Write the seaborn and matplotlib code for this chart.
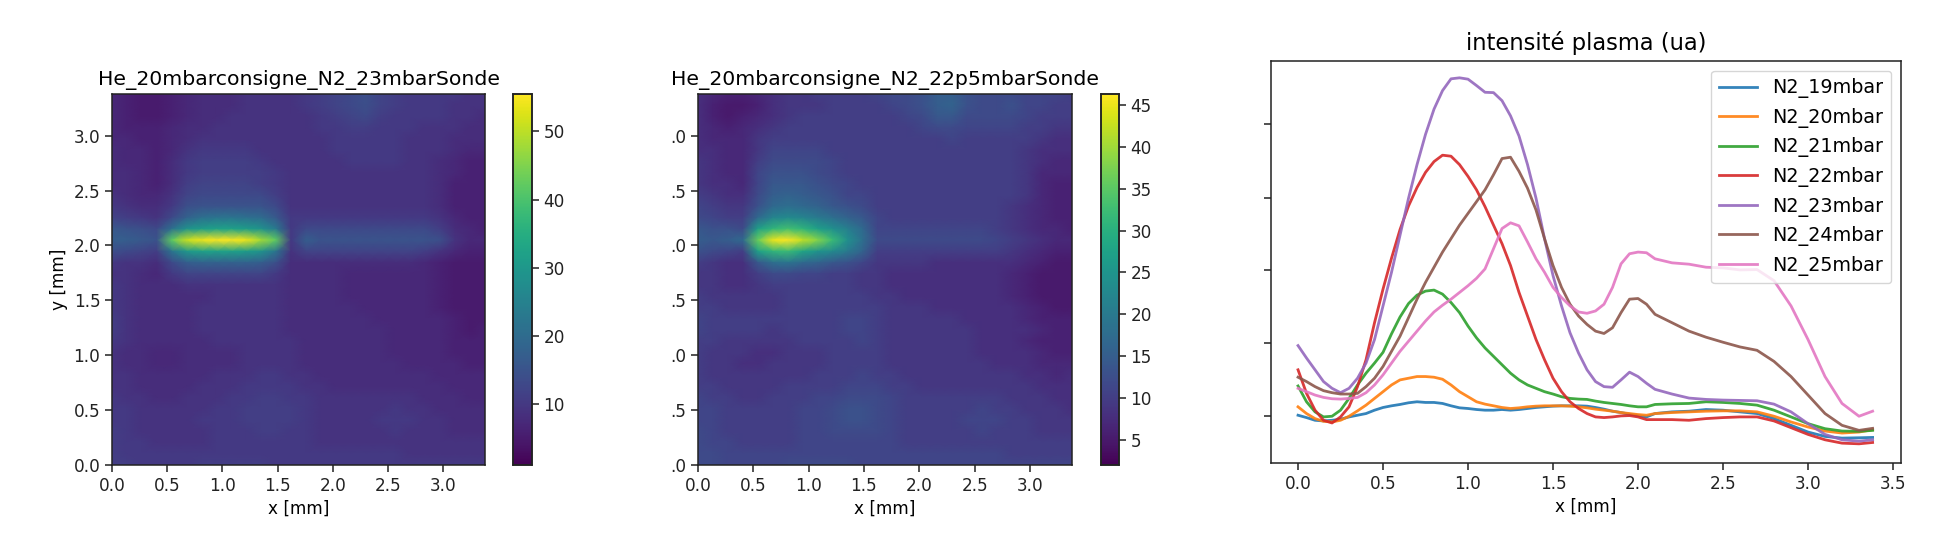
import numpy as np
import pandas as pd
import seaborn as sns
import matplotlib.pyplot as plt

W, H = 1938, 548

# map 1 : He_20mbarconsigne_N2_23mbarSonde, rows from y=3.38 down to y=0
map_23 = [
    [7,6,5,5,6,7,8,8,8,9,9,9,9,10,11,12,13,14,12,11,10,10,10,10,9,9],
    [7,6,5,5,6,7,8,8,8,9,9,9,9,10,11,12,13,14,12,11,10,10,10,9,9,9],
    [7,6,5,5,6,7,8,8,9,9,9,9,9,9,10,11,12,13,11,10,10,10,10,9,9,8],
    [7,6,6,6,7,8,8,9,9,9,9,9,9,9,10,10,11,11,10,10,10,9,9,9,8,8],
    [7,7,6,6,7,8,9,9,9,9,9,9,9,9,9,10,10,10,10,10,9,9,9,8,8,8],
    [8,7,7,6,7,9,10,10,10,10,9,9,9,9,9,10,10,10,10,10,9,9,9,8,7,7],
    [8,7,7,6,8,10,11,11,11,11,10,9,9,9,9,9,10,10,10,10,9,9,8,7,6,6],
    [8,8,7,6,8,10,11,11,11,11,11,10,9,9,9,9,9,9,9,9,9,9,8,7,6,6],
    [8,8,7,6,8,11,12,12,12,12,11,10,9,9,9,9,9,9,9,9,9,9,8,6,6,6],
    [9,8,7,7,9,12,13,13,13,13,13,11,9,9,9,9,9,9,9,9,9,9,8,6,6,6],
    [10,9,8,8,10,14,15,15,15,15,15,13,9,9,9,9,9,9,9,9,9,9,8,6,6,6],
    [12,11,10,9,13,18,21,22,22,21,20,16,10,10,10,10,10,10,10,10,10,10,9,7,6,6],
    [16,15,14,13,21,29,31,32,32,31,29,23,10,13,13,13,13,13,13,13,13,13,11,8,7,6],
    [17,17,16,15,42,51,54,55,55,54,48,42,10,17,15,15,15,15,15,15,15,15,14,9,7,7],
    [14,13,12,11,22,30,32,32,32,31,29,22,9,12,12,12,12,12,12,12,12,11,9,7,6,6],
    [10,9,9,8,13,17,18,18,18,18,17,14,8,8,8,8,8,8,8,8,8,7,6,5,5,5],
    [9,9,8,7,10,12,12,12,12,12,12,10,8,8,8,8,7,7,7,7,7,7,6,5,5,5],
    [10,9,8,8,8,9,9,9,9,9,9,9,8,8,8,8,7,7,7,7,7,7,6,5,5,5],
    [10,9,8,8,8,8,8,9,9,9,9,9,8,8,8,8,7,7,7,7,7,7,6,5,5,5],
    [10,9,8,8,8,8,9,9,9,9,9,9,8,8,8,8,8,7,7,7,7,7,6,5,5,5],
    [11,9,8,8,8,8,9,9,9,9,9,9,8,8,8,8,8,8,7,7,7,7,7,6,5,5],
    [11,9,8,8,8,8,9,9,9,9,9,9,8,8,8,8,8,8,8,7,7,7,7,6,5,6],
    [10,9,8,8,8,8,8,9,9,9,9,9,9,8,8,8,8,8,8,7,7,7,7,6,6,6],
    [9,8,8,7,7,8,8,8,8,9,9,9,9,8,8,8,8,8,8,7,7,7,7,6,6,6],
    [9,8,8,7,7,8,8,8,8,9,9,9,9,8,8,8,8,8,8,8,7,7,7,7,6,6],
    [9,9,8,8,8,8,8,9,9,9,10,10,9,9,8,8,8,8,8,8,8,8,7,7,7,7],
    [9,9,8,8,8,8,9,9,9,10,10,10,10,9,9,8,8,8,8,8,8,8,8,7,7,7],
    [10,9,9,8,8,9,9,9,10,10,11,11,10,10,9,9,9,9,9,9,9,8,8,8,7,7],
    [10,10,9,9,9,9,9,10,10,11,11,11,11,10,9,9,9,9,9,10,9,9,8,8,8,8],
    [10,10,9,9,9,9,10,10,10,11,11,11,11,10,9,9,9,9,10,10,10,9,9,8,8,8],
    [11,10,9,9,9,9,9,10,10,10,11,11,10,10,9,9,9,9,9,10,9,9,9,8,8,8],
    [11,10,10,9,9,9,9,10,10,10,10,10,10,10,9,9,9,9,9,9,9,9,9,9,9,9],
    [11,10,10,10,10,10,10,10,10,10,10,10,10,10,10,10,10,10,10,10,9,9,9,9,9,9],
    [11,11,10,10,10,10,11,11,11,11,11,10,10,10,10,10,10,10,10,10,10,10,10,10,10,10],
]

# map 2 : He_20mbarconsigne_N2_22p5mbarSonde
map_22p5 = [
    [8,7,6,6,7,8,9,9,10,10,10,10,11,12,12,13,15,15,13,12,12,12,11,11,11,10],
    [8,6,5,5,6,8,9,9,9,10,10,10,10,11,12,13,15,16,13,12,12,13,11,11,10,10],
    [8,6,5,6,7,8,9,10,10,10,10,10,10,10,11,12,14,14,12,12,12,12,11,10,10,10],
    [8,7,6,7,8,9,10,10,10,10,10,10,10,10,10,11,12,12,11,11,11,11,10,10,9,9],
    [8,7,7,7,9,10,10,10,10,10,10,10,10,10,10,10,10,11,10,10,10,10,10,9,8,8],
    [8,8,7,7,9,11,11,11,11,10,10,10,10,10,10,10,10,10,10,10,10,10,9,8,8,8],
    [9,8,7,7,10,12,12,12,12,11,10,10,10,10,10,10,10,10,10,10,10,10,9,8,7,7],
    [9,8,7,7,11,13,13,13,12,11,10,10,10,10,10,10,10,10,10,10,10,10,9,7,7,7],
    [9,8,8,7,11,14,14,14,13,12,11,10,10,10,10,10,10,10,10,10,10,10,9,7,6,6],
    [10,9,8,8,12,15,16,15,14,13,11,11,10,10,10,10,10,10,10,10,10,10,9,7,6,6],
    [11,10,9,9,13,17,18,17,16,14,13,12,10,10,10,10,10,10,10,10,10,9,8,7,6,6],
    [12,11,10,10,17,22,23,22,20,18,16,14,11,10,10,10,10,10,10,10,10,9,8,7,6,6],
    [14,13,13,12,27,31,33,31,27,24,21,17,11,11,11,11,11,11,11,11,10,9,8,7,7,6],
    [15,14,15,17,36,45,46,42,38,32,24,18,12,12,12,12,12,12,12,12,11,10,9,8,7,7],
    [13,12,11,10,27,31,32,28,25,23,20,16,10,10,10,10,10,10,10,10,10,9,8,7,6,6],
    [10,9,8,8,14,18,19,17,16,14,13,11,9,9,9,9,8,8,8,8,8,8,7,6,5,5],
    [9,9,8,8,10,12,12,11,11,10,10,9,9,8,8,8,8,8,8,8,8,7,6,5,5,5],
    [9,9,8,8,9,10,10,10,10,10,10,9,9,8,8,8,8,8,8,8,8,7,6,5,5,5],
    [10,9,9,9,9,9,10,10,10,10,10,10,9,9,8,8,8,8,8,8,8,7,6,5,5,5],
    [10,10,9,9,9,9,10,10,10,10,10,10,10,9,9,9,8,8,8,8,8,8,7,6,5,5],
    [11,10,10,10,10,10,10,10,10,10,11,11,10,9,9,9,9,9,8,8,8,8,7,6,6,6],
    [11,10,10,10,10,9,10,10,10,10,11,11,10,9,9,9,9,9,9,8,8,8,8,7,6,6],
    [10,10,9,9,9,9,9,10,10,10,10,11,10,9,9,9,9,9,9,8,8,8,7,6,6,6],
    [10,9,9,9,8,8,9,9,9,10,10,10,10,9,9,9,9,9,9,8,8,8,8,7,6,6],
    [10,9,9,8,8,9,9,9,9,10,10,10,10,9,9,9,9,9,9,9,8,8,8,7,7,7],
    [10,9,9,9,9,9,9,9,10,10,10,11,10,10,9,9,9,9,9,9,9,9,8,8,7,8],
    [10,10,9,9,9,9,10,10,10,10,11,11,11,10,10,9,9,9,9,9,9,9,9,8,8,8],
    [11,10,10,9,9,10,10,10,11,11,12,12,12,11,10,10,10,10,10,10,10,9,9,9,8,8],
    [11,11,10,10,10,10,10,11,11,12,13,13,12,11,10,10,10,10,10,11,10,10,9,9,9,8],
    [11,11,10,10,10,10,10,11,11,12,13,13,12,11,10,10,10,10,11,11,11,10,10,9,9,9],
    [12,11,10,10,10,10,10,11,11,12,12,12,12,11,10,10,10,10,10,11,10,10,10,9,9,9],
    [12,11,11,10,10,10,10,11,11,11,11,11,11,11,10,10,10,10,10,10,10,10,10,10,10,10],
    [12,12,11,11,11,11,11,11,11,11,11,11,11,11,11,11,11,11,11,11,11,10,10,10,10,10],
    [12,12,11,11,11,11,12,12,12,12,12,11,11,11,11,11,11,11,11,11,11,11,11,11,11,11],
]

map_extent = 3.38
map_ticks = [0.0, 0.5, 1.0, 1.5, 2.0, 2.5, 3.0]
tick_labels = ['0.0', '0.5', '1.0', '1.5', '2.0', '2.5', '3.0']
clipped_labels = ['.0', '.5', '.0', '.5', '.0', '.5', '.0']

# profiles, arbitrary units
x_mm = [0, .05, .1, .15, .2, .25, .3, .35, .4, .45, .5, .55, .6, .65, .7, .75, .8, .85, .9, .95,
        1, 1.05, 1.1, 1.15, 1.2, 1.25, 1.3, 1.35, 1.4, 1.45, 1.5, 1.55, 1.6, 1.65, 1.7, 1.75, 1.8,
        1.85, 1.9, 1.95, 2, 2.05, 2.1, 2.2, 2.3, 2.4, 2.5, 2.6, 2.7, 2.8, 2.9, 3, 3.1, 3.2, 3.3, 3.38]
n2_19 = [3,-4,-12,-14,-12,-9,-2,3,8,18,26,31,35,40,43,41,41,38,31,25,23,20,18,18,20,18,20,23,26,28,
         30,31,31,31,30,26,21,15,11,6,2,-2,8,13,15,20,18,13,8,-7,-27,-47,-60,-65,-64,-63]
n2_20 = [28,8,-7,-15,-17,-12,0,16,33,53,73,93,108,113,118,118,116,110,93,73,58,43,36,31,26,23,25,28,30,31,
         31,31,30,28,25,21,18,15,11,8,5,3,8,11,13,15,16,16,13,0,-17,-32,-44,-50,-47,-40]
n2_21 = [90,43,13,-2,0,18,53,93,128,158,190,245,295,335,360,372,375,363,338,308,268,233,203,178,153,128,108,93,83,73,
         66,58,53,51,50,45,41,38,35,31,28,28,35,37,38,43,41,38,33,18,-2,-22,-37,-44,-45,-42]
n2_22 = [138,68,18,-12,-20,-2,28,88,168,278,378,470,555,625,680,725,757,776,773,748,713,673,623,568,513,448,368,298,228,168,
         113,73,43,23,8,-2,-4,-2,1,2,-2,-10,-10,-10,-12,-7,-4,-2,-2,-14,-34,-54,-70,-80,-82,-78]
n2_23 = [210,173,138,103,83,70,83,113,158,228,328,428,538,648,748,838,913,968,1003,1006,1002,983,963,962,938,893,833,748,648,528,
         418,328,248,188,138,103,88,86,108,131,118,98,80,66,54,50,48,47,46,36,13,-22,-54,-70,-74,-70]
n2_24 = [116,103,88,76,70,66,66,68,88,113,148,193,238,293,348,398,443,488,528,568,603,638,673,718,766,770,728,678,613,528,
         448,383,333,298,273,253,246,263,308,348,350,333,303,278,253,235,220,206,196,163,118,63,8,-27,-42,-36]
n2_25 = [83,73,63,56,52,51,53,56,70,93,123,158,193,223,253,283,310,330,348,368,388,410,438,498,558,575,566,518,468,428,
         383,353,328,310,306,313,333,383,453,483,488,486,468,456,452,443,441,435,436,403,328,228,118,38,0,15]
series_names = ['N2_19mbar', 'N2_20mbar', 'N2_21mbar', 'N2_22mbar', 'N2_23mbar', 'N2_24mbar', 'N2_25mbar']
series_values = [n2_19, n2_20, n2_21, n2_22, n2_23, n2_24, n2_25]
profile_yticks = [0, 217, 435, 648, 868]
profile_xticks = [0.0, 0.5, 1.0, 1.5, 2.0, 2.5, 3.0, 3.5]

TICK_FS = 12.2
TITLE_FS = 14.7


def px_axes(fig, left, top, right, bottom):
    return fig.add_axes([left / W, 1 - bottom / H, (right - left) / W, (bottom - top) / H])


def style_frame(ax):
    for s in ax.spines.values():
        s.set_visible(True)
        s.set_linewidth(1.1)
        s.set_color('#222222')
    ax.tick_params(length=4.8, width=1.1, labelsize=TICK_FS, labelcolor='#222222', color='#222222')


def draw_map(fig, data, title, vmin, vmax, box, cbox, ylabels, ylabel):
    ax = px_axes(fig, *box)
    cax = px_axes(fig, *cbox)
    arr = np.array(data, dtype=float)
    ny, nx = arr.shape
    sns.heatmap(arr, ax=ax, cbar_ax=cax, cmap='viridis', vmin=vmin, vmax=vmax,
                xticklabels=False, yticklabels=False, shading='gouraud')
    # gouraud mesh runs over the nodes, not the cells
    ax.set_xlim(0, nx - 1)
    ax.set_ylim(ny - 1, 0)
    ax.set_xticks([t / map_extent * (nx - 1) for t in map_ticks])
    ax.set_xticklabels(tick_labels)
    ax.set_yticks([(map_extent - t) / map_extent * (ny - 1) for t in map_ticks])
    ax.set_yticklabels(ylabels, rotation=0)
    ax.set_xlabel('x [mm]', fontsize=TICK_FS)
    if ylabel:
        ax.set_ylabel('y [mm]', fontsize=TICK_FS)
    ax.set_title(title, fontsize=TITLE_FS, pad=6.5)
    style_frame(ax)
    style_frame(cax)
    return ax


fig = plt.figure(figsize=(W / 100, H / 100), dpi=100)

draw_map(fig, map_23, 'He_20mbarconsigne_N2_23mbarSonde', 1, 55.5,
         (112, 94, 485, 465), (513, 94, 532, 465), tick_labels, True)
draw_map(fig, map_22p5, 'He_20mbarconsigne_N2_22p5mbarSonde', 2, 46.3,
         (698, 94, 1072, 465), (1101, 94, 1119, 465), clipped_labels, False)

ax3 = px_axes(fig, 1271, 61, 1901, 463)
frames = []
for name, vals in zip(series_names, series_values):
    frames.append(pd.DataFrame({'x': x_mm, 'y': vals, 'serie': name}))
df = pd.concat(frames)
sns.lineplot(data=df, x='x', y='y', hue='serie', palette='tab10', linewidth=2.0, alpha=0.9,
             estimator=None, sort=False, ax=ax3)
ax3.set_xlim(-0.159, 3.547)
ax3.set_ylim(-139, 1056)
ax3.set_xticks(profile_xticks)
ax3.set_yticks(profile_yticks)
ax3.set_yticklabels([])
style_frame(ax3)
ax3.set_xlabel('x [mm]', fontsize=TICK_FS)
ax3.set_ylabel('')
ax3.set_title('intensité plasma (ua)', fontsize=16.3, pad=8)
ax3.legend(loc='upper right', fontsize=13.8, title=None)

fig.savefig('out.png', dpi=100)
